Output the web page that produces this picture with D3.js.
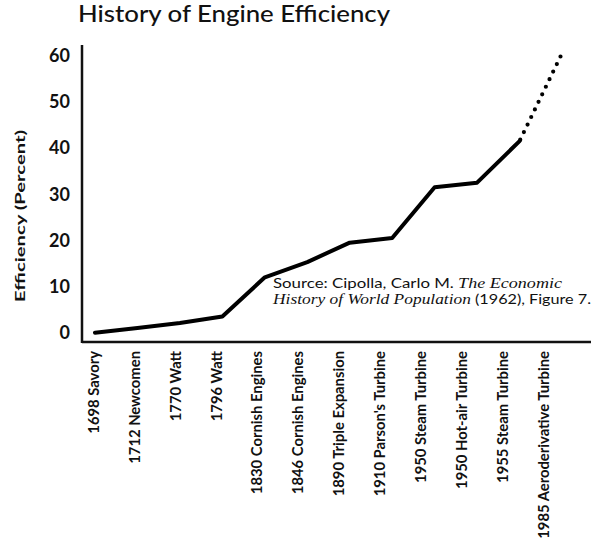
<!DOCTYPE html>
<html>
<head>
<meta charset="utf-8">
<script src="https://cdn.jsdelivr.net/npm/d3@7"></script>
<style>
  html, body { margin: 0; padding: 0; background: #fff; }
  svg { display: block; }
  text { fill: #111; }
</style>
</head>
<body>
<script>
// Engine milestones and their thermal efficiency (percent)
const engines = [
  "1698 Savory", "1712 Newcomen", "1770 Watt", "1796 Watt",
  "1830 Cornish Engines", "1846 Cornish Engines", "1890 Triple Expansion",
  "1910 Parson's Turbine", "1950 Steam Turbine", "1950 Hot-air Turbine",
  "1955 Steam Turbine", "1985 Aeroderivative Turbine"
];
const efficiency = [0.5, 1.5, 2.6, 4, 12.5, 15.8, 20, 21, 32, 33, 42, 61];
// the last milestone is a projection, drawn dotted
const projectedFrom = 10;
const yTicks = [0, 10, 20, 30, 40, 50, 60];

const W = 594, H = 545;
const svg = d3.select("body").append("svg").attr("width", W).attr("height", H);
svg.append("rect").attr("width", W).attr("height", H).attr("fill", "#fff");

const axisX = 82, axisY = 342, axisTop = 45, axisRight = 591;

const y = d3.scaleLinear().domain([0, 60]).range([335, 58]);
const xTick = d3.scalePoint().domain(engines).range([93, 543]);
const xLine = d3.scalePoint().domain(engines).range([95, 562]);

// title
svg.append("text")
  .attr("x", 78).attr("y", 22)
  .attr("font-family", "Lato, 'Open Sans', sans-serif")
  .attr("font-size", 23).attr("font-weight", 500)
  .attr("textLength", 312).attr("lengthAdjust", "spacingAndGlyphs")
  .text("History of Engine Efficiency");

// y axis: labels only, plus a heavy spine
const yAxis = d3.axisLeft(y).tickValues(yTicks).tickSize(0).tickPadding(12);
const gy = svg.append("g").attr("transform", `translate(${axisX},0)`).call(yAxis);
gy.select(".domain").remove();
gy.selectAll("text")
  .attr("font-family", "Lato, sans-serif")
  .attr("font-size", 18).attr("font-weight", 700)
  .attr("fill", "#111").attr("dy", "0.2em");

svg.append("line")
  .attr("x1", axisX).attr("x2", axisX).attr("y1", axisTop).attr("y2", axisY + 1)
  .attr("stroke", "#111").attr("stroke-width", 2.5);
svg.append("line")
  .attr("x1", axisX).attr("x2", axisRight).attr("y1", axisY).attr("y2", axisY)
  .attr("stroke", "#111").attr("stroke-width", 2.5);

// y axis title
svg.append("text")
  .attr("transform", "translate(25,216) rotate(-90)")
  .attr("text-anchor", "middle")
  .attr("font-family", "Lato, sans-serif")
  .attr("font-size", 14).attr("font-weight", 700)
  .attr("textLength", 172).attr("lengthAdjust", "spacingAndGlyphs")
  .text("Efficiency (Percent)");

// x axis: rotated category labels
const xAxis = d3.axisBottom(xTick).tickSize(0).tickPadding(0);
const gx = svg.append("g").attr("transform", `translate(0,${axisY})`).call(xAxis);
gx.select(".domain").remove();
gx.selectAll("text")
  .attr("font-family", "Lato, sans-serif")
  .attr("font-size", 14.8).attr("font-weight", 700)
  .attr("fill", "#111")
  .attr("text-anchor", "end")
  .attr("transform", "rotate(-90)")
  .attr("x", -9).attr("y", 0).attr("dy", "0.36em");

// efficiency line: solid for the record, dotted for the projection
const pts = engines.map((e, i) => ({ e, v: efficiency[i], i }));
const line = d3.line().x(d => xLine(d.e)).y(d => y(d.v));

svg.append("path")
  .datum(pts.filter(d => d.i <= projectedFrom))
  .attr("d", line)
  .attr("fill", "none").attr("stroke", "#000")
  .attr("stroke-width", 4).attr("stroke-linejoin", "round").attr("stroke-linecap", "round");

svg.append("path")
  .datum(pts.filter(d => d.i >= projectedFrom))
  .attr("d", line)
  .attr("fill", "none").attr("stroke", "#000")
  .attr("stroke-width", 4.2).attr("stroke-linecap", "round")
  .attr("stroke-dasharray", "0 8.4").attr("stroke-dashoffset", -10);

// source note
const note = svg.append("g")
  .attr("font-family", "Lato, sans-serif").attr("font-size", 13.5);
const l1 = note.append("text").attr("x", 273).attr("y", 288)
  .attr("textLength", 289).attr("lengthAdjust", "spacingAndGlyphs");
l1.append("tspan").text("Source: Cipolla, Carlo M. ");
l1.append("tspan").attr("font-family", "'Liberation Serif', serif").attr("font-style", "italic")
  .attr("font-size", 14.5).text("The Economic");
const l2 = note.append("text").attr("x", 273).attr("y", 304)
  .attr("textLength", 318).attr("lengthAdjust", "spacingAndGlyphs");
l2.append("tspan").attr("font-family", "'Liberation Serif', serif").attr("font-style", "italic")
  .attr("font-size", 14.5).text("History of World Population");
l2.append("tspan").text(" (1962), Figure 7.");
</script>
</body>
</html>
